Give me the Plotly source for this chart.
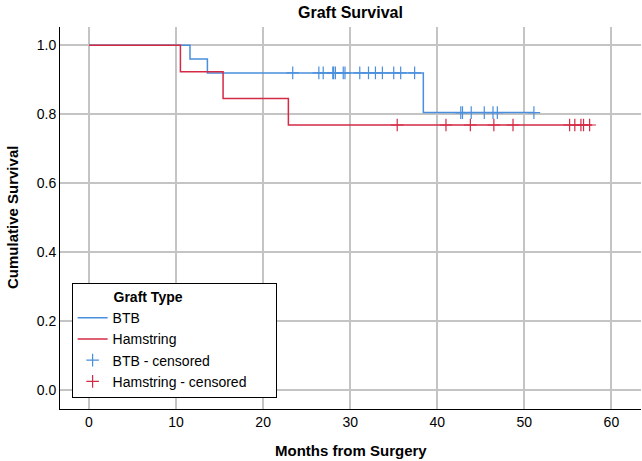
import plotly.graph_objects as go
import numpy as np

# Kaplan-Meier step data
btb_times = [0, 11.6, 13.6, 38.4]
btb_surv = [1.0, 0.96, 0.92, 0.805]
btb_end = 51.1
btb_censored = [23.4, 26.4, 26.9, 28.0, 28.1, 28.3, 29.2, 29.4, 31.1, 32.1, 32.9,
                33.7, 35.0, 35.8, 37.4, 42.7, 42.9, 43.9, 45.4, 46.4, 46.9, 51.1]

ham_times = [0, 10.5, 15.4, 22.9]
ham_surv = [1.0, 0.923, 0.846, 0.769]
ham_end = 57.8
ham_censored = [35.4, 41.0, 43.8, 46.5, 48.7, 55.2, 55.8, 56.5, 56.8, 57.5]

x_ticks = [0, 10, 20, 30, 40, 50, 60]
y_ticks = [0.0, 0.2, 0.4, 0.6, 0.8, 1.0]

BLUE = "#4a8fdd"
RED = "#d42a45"
FONT = "Liberation Sans, Arial, sans-serif"
PAD = "&nbsp;"


def step_xy(times, surv, end):
    return list(times) + [end], list(surv) + [surv[-1]]


def surv_at(times, surv, t):
    idx = np.searchsorted(np.array(times), t, side="right") - 1
    return surv[idx]


fig = go.Figure()
bx, by = step_xy(btb_times, btb_surv, btb_end)
hx, hy = step_xy(ham_times, ham_surv, ham_end)

fig.add_trace(go.Scatter(x=bx, y=by, mode="lines", line=dict(color=BLUE, width=1.5, shape="hv"),
                         name="BTB"))
fig.add_trace(go.Scatter(x=hx, y=hy, mode="lines", line=dict(color=RED, width=1.5, shape="hv"),
                         name="Hamstring"))
fig.add_trace(go.Scatter(x=btb_censored, y=[surv_at(btb_times, btb_surv, t) for t in btb_censored],
                         mode="markers", name="BTB - censored",
                         marker=dict(symbol="cross-thin", size=9, line=dict(color=BLUE, width=1.2))))
fig.add_trace(go.Scatter(x=ham_censored, y=[surv_at(ham_times, ham_surv, t) for t in ham_censored],
                         mode="markers", name="Hamstring - censored" + PAD * 6,
                         marker=dict(symbol="cross-thin", size=9, line=dict(color=RED, width=1.2))))

fig.update_layout(
    width=642, height=461,
    margin=dict(l=60, r=1, t=27, b=52, autoexpand=False),
    paper_bgcolor="white", plot_bgcolor="white",
    font=dict(family=FONT, size=14, color="black"),
    xaxis=dict(range=[-3.33, 63.4], tickvals=x_ticks, showgrid=True, gridcolor="#c4c4c4", gridwidth=1.5,
               zeroline=False, showline=True, linecolor="black", linewidth=1, ticks="",
               automargin=False, tickfont=dict(size=14)),
    yaxis=dict(range=[-0.054, 1.053], tickvals=y_ticks, tickformat=".1f", showgrid=True,
               gridcolor="#c4c4c4", gridwidth=1.5, zeroline=False, showline=True, linecolor="black",
               linewidth=1, ticks="", automargin=False, tickfont=dict(size=14)),
    legend=dict(x=0.02, y=0.33, xanchor="left", yanchor="top", bgcolor="white",
                bordercolor="black", borderwidth=1, font=dict(size=14),
                title=dict(text=PAD * 10 + "<b>Graft Type</b>", side="top",
                           font=dict(size=14)),
                tracegroupgap=0, itemwidth=30),
    showlegend=True,
    annotations=[
        dict(text="<b>Graft Survival</b>", xref="paper", yref="paper", x=0.5, y=1,
             yshift=15, xanchor="center", yanchor="middle", showarrow=False, font=dict(size=16)),
        dict(text="<b>Months from Surgery</b>", xref="paper", yref="paper", x=0.5, y=0,
             yshift=-41, xanchor="center", yanchor="middle", showarrow=False, font=dict(size=15)),
        dict(text="<b>Cumulative Survival</b>", xref="paper", yref="paper", x=0, y=0.5,
             xshift=-48, xanchor="center", yanchor="middle", showarrow=False, textangle=-90,
             font=dict(size=15)),
    ],
)

fig.write_html("out.html", config={"displayModeBar": False},
               post_script="document.body.style.margin='0';")
